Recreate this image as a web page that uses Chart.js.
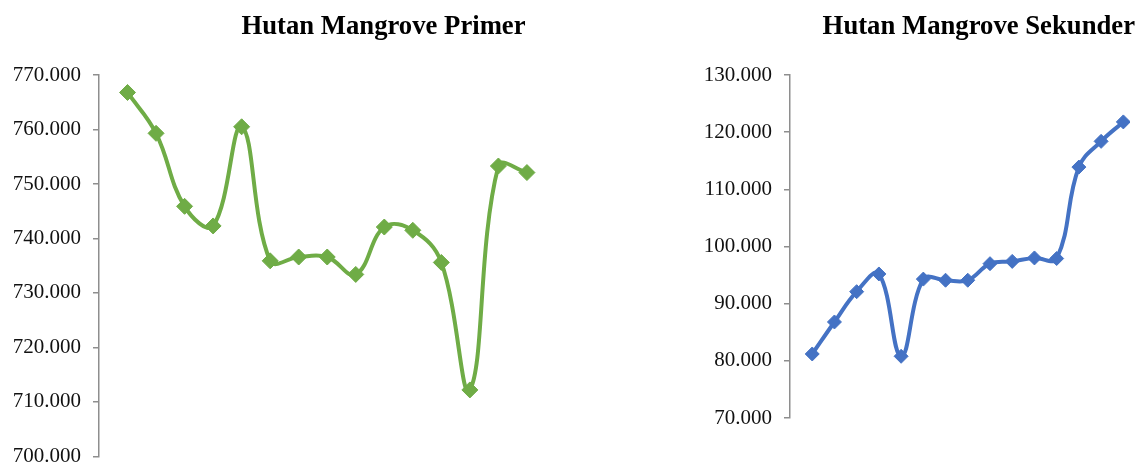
<!DOCTYPE html>
<html>
<head>
<meta charset="utf-8">
<script src="https://cdn.jsdelivr.net/npm/chart.js@4.4.1/dist/chart.umd.min.js"></script>
<style>
  html, body { margin: 0; padding: 0; background: #fff; overflow: hidden; }
  body { width: 1138px; height: 464px; position: relative; }
  .box { position: absolute; top: 0; }
  #primerBox { left: 0; width: 767px; height: 481px; }
  #sekunderBox { left: 690px; width: 448px; height: 464px; }
</style>
</head>
<body>
<div class="box" id="primerBox"><canvas id="primerChart"></canvas></div>
<div class="box" id="sekunderBox"><canvas id="sekunderChart"></canvas></div>
<script>
const periods = [1, 2, 3, 4, 5, 6, 7, 8, 9, 10, 11, 12, 13, 14, 15]
const primerValues = [766800, 759300, 745900, 742300, 760500, 735900, 736600, 736600, 733400, 742100, 741500, 735600, 712200, 753300, 752100]
const sekunderValues = [81200, 86800, 92100, 95200, 80800, 94300, 94100, 94100, 97000, 97400, 98000, 97900, 113900, 118400, 121800]

const primerTicks = [700000, 770000, 10000]
const sekunderTicks = [70000, 130000, 10000]

// thousands with a dot, like the original
function formatId(v) {
  return Math.round(v).toString().replace(/\B(?=(\d{3})+(?!\d))/g, ".")
}

function makeChart(id, title, values, ticks, color, opts) {
  const ctx = document.getElementById(id).getContext("2d")
  return new Chart(ctx, {
    type: "line",
    data: {
      datasets: [{
        data: periods.map((p, i) => ({ x: p, y: values[i] })),
        borderColor: color,
        backgroundColor: color,
        borderWidth: 4,
        tension: 0.4,
        pointStyle: "rectRot",
        pointRadius: opts.pointRadius,
        pointBorderWidth: 1,
        pointBorderColor: color,
        pointBackgroundColor: color
      }]
    },
    options: {
      responsive: true,
      maintainAspectRatio: false,
      animation: false,
      layout: { padding: { top: 0, left: 0, right: opts.padRight, bottom: opts.padBottom } },
      plugins: {
        legend: { display: false },
        tooltip: { enabled: false },
        title: {
          display: true,
          text: title,
          align: opts.titleAlign,
          color: "#000",
          font: { family: "'Liberation Serif', 'Times New Roman', serif", size: 26.7, weight: "bold", lineHeight: 1.2 },
          padding: { top: 11, bottom: 32 }
        }
      },
      scales: {
        x: {
          type: "linear",
          display: false,
          min: 0,
          max: opts.xMax
        },
        y: {
          min: ticks[0],
          max: ticks[1],
          afterFit: (scale) => { scale.width = opts.axisWidth },
          border: { display: true, color: "#8e8e8e", width: 1.5 },
          grid: { drawOnChartArea: false, drawTicks: true, tickLength: 6, color: "#8e8e8e", lineWidth: 1.5 },
          ticks: {
            stepSize: ticks[2],
            padding: 12,
            color: "#111",
            font: { family: "'Liberation Serif', 'Times New Roman', serif", size: 21 },
            callback: (v) => formatId(v)
          }
        }
      }
    }
  })
}

makeChart("primerChart", "Hutan Mangrove Primer", primerValues, primerTicks, "#6FAC46",
  { pointRadius: 8, padRight: 0, padBottom: 0, xMax: 23.1, axisWidth: 99, titleAlign: "center" })
makeChart("sekunderChart", "Hutan Mangrove Sekunder", sekunderValues, sekunderTicks, "#4472C4",
  { pointRadius: 7, padRight: 3, padBottom: 46, xMax: 15.3, axisWidth: 100, titleAlign: "end" })
</script>
</body>
</html>
